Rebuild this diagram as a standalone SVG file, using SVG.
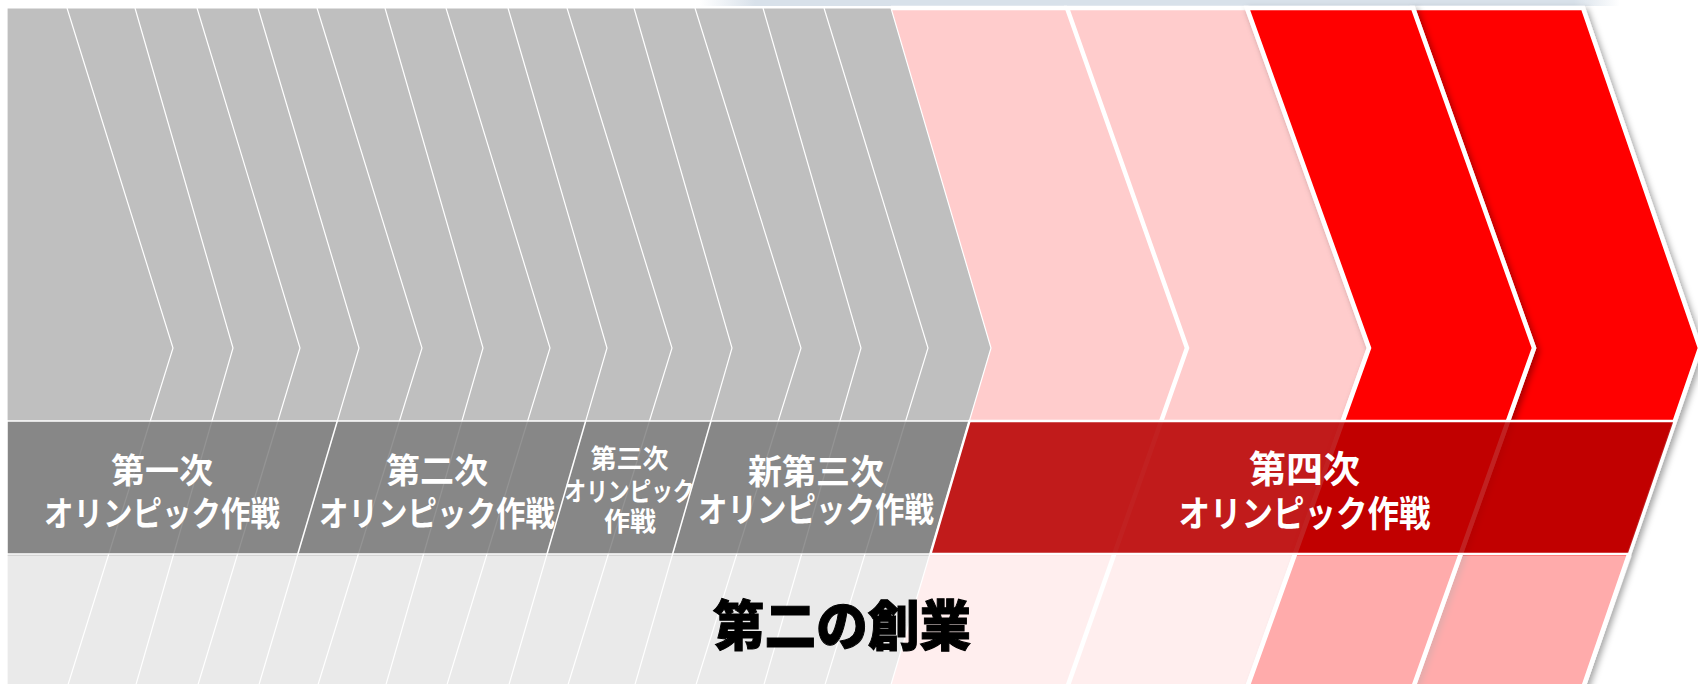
<svg xmlns="http://www.w3.org/2000/svg" width="1698" height="684" viewBox="0 0 1698 684">
  <defs>
    <linearGradient id="topStrip" x1="700" y1="0" x2="1620" y2="0" gradientUnits="userSpaceOnUse">
      <stop offset="0" stop-color="#D8E1EA" stop-opacity="0"/>
      <stop offset="0.06" stop-color="#D8E1EA" stop-opacity="1"/>
      <stop offset="0.95" stop-color="#D8E1EA" stop-opacity="1"/>
      <stop offset="1" stop-color="#D8E1EA" stop-opacity="0"/>
    </linearGradient>
    <filter id="shadow" x="-10%" y="-5%" width="130%" height="115%">
      <feDropShadow dx="3" dy="3" stdDeviation="3" flood-color="#000" flood-opacity="0.35"/>
    </filter>
    <style>
      .gray { fill: #BFBFBF; stroke: #FFFFFF; stroke-width: 1.2; }
      .thin { fill: none; stroke: #FFFFFF; stroke-width: 1.2; }
      .pink { fill: #FFCCCC; }
      .pinkS { fill: #FFCCCC; stroke: #FFFFFF; stroke-width: 4.5; }
      .red { fill: #FF0000; stroke: #FFFFFF; stroke-width: 4.5; }
      .thick { fill: none; stroke: #FFFFFF; stroke-width: 4.5; }
      .bandGray { fill: #797979; fill-opacity: 0.8; stroke: #FFFFFF; stroke-width: 1.5; }
      .bandSep { stroke: #FFFFFF; stroke-width: 1.5; }
      .bandRed { fill: #B80000; fill-opacity: 0.87; stroke: #FFFFFF; stroke-width: 2.5; }
      .lbl { font-family: "Noto Sans CJK JP", "Noto Sans", sans-serif; font-weight: 700; fill: #FFFFFF; text-anchor: middle; }
      .title { font-family: "Noto Sans CJK JP", "Noto Sans", sans-serif; font-weight: 900; fill: #000000; stroke: #000000; stroke-width: 1; text-anchor: middle; }
    </style>
  </defs>

  <rect x="0" y="0" width="1698" height="684" fill="#FFFFFF"/>
  <rect x="700" y="0" width="920" height="6" fill="url(#topStrip)"/>

  <g id="chevron-pink-1">
    <polygon class="pink" points="891,8 1067,8 1187,348 1067,688 890,688 991,348"/>
    <line class="thick" x1="891" y1="8" x2="1067" y2="8"/>
  </g>
  <g id="chevron-pink-2">
    <polygon class="pinkS" points="1067,8 1247,8 1369,348 1247,688 1067,688 1187,348"/>
  </g>
  <g id="chevron-red-2" filter="url(#shadow)">
    <polygon class="red" points="1413,8 1583,8 1700,348 1583,688 1413,688 1534,348"/>
  </g>
  <g id="chevron-red-1" filter="url(#shadow)">
    <polygon class="red" points="1247,8 1413,8 1534,348 1413,688 1247,688 1369,348"/>
  </g>

  <g id="chevron-gray">
    <polygon class="gray" points="7,8 891,8 991,348 890,688 7,688"/>
    <polyline class="thin" points="67,8 173,348 67,688"/>
    <polyline class="thin" points="135,8 233,348 135,688"/>
    <polyline class="thin" points="197,8 300,348 197,688"/>
    <polyline class="thin" points="258,8 359,348 258,688"/>
    <polyline class="thin" points="317,8 422,348 317,688"/>
    <polyline class="thin" points="385,8 483,348 385,688"/>
    <polyline class="thin" points="446,8 550,348 446,688"/>
    <polyline class="thin" points="508,8 607,348 508,688"/>
    <polyline class="thin" points="567,8 672,348 567,688"/>
    <polyline class="thin" points="634,8 732,348 634,688"/>
    <polyline class="thin" points="695,8 801,348 695,688"/>
    <polyline class="thin" points="763,8 861,348 763,688"/>
    <polyline class="thin" points="824,8 928,348 824,688"/>
  </g>

  <g id="band-gray">
    <polygon class="bandGray" points="7,421 969.5,421 930.4,554 7,554"/>
    <line class="bandSep" x1="337.3" y1="421" x2="297.8" y2="554"/>
    <line class="bandSep" x1="585.7" y1="421" x2="547" y2="554"/>
    <line class="bandSep" x1="711" y1="421" x2="672.6" y2="554"/>
  </g>
  <g id="band-red">
    <polygon class="bandRed" points="969.5,421 1674.9,421 1629.1,554 930.4,554"/>
  </g>

  <polygon id="lower-band" points="7,555.5 1632,555.5 1587,684 7,684" fill="#FFFFFF" fill-opacity="0.67"/>

  <g id="connectors"/>

  <g id="phase-1">
    <text class="lbl" x="162" y="482.8" font-size="34">第一次</text>
    <text class="lbl" x="162" y="525.8" font-size="34" textLength="236" lengthAdjust="spacingAndGlyphs">オリンピック作戦</text>
  </g>
  <g id="phase-2">
    <text class="lbl" x="437" y="482.8" font-size="34">第二次</text>
    <text class="lbl" x="437" y="525.8" font-size="34" textLength="236" lengthAdjust="spacingAndGlyphs">オリンピック作戦</text>
  </g>
  <g id="phase-3">
    <text class="lbl" x="629.5" y="468" font-size="26">第三次</text>
    <text class="lbl" x="629.5" y="501.3" font-size="26" textLength="130" lengthAdjust="spacingAndGlyphs">オリンピック</text>
    <text class="lbl" x="630" y="531.3" font-size="26">作戦</text>
  </g>
  <g id="phase-3-new">
    <text class="lbl" x="816" y="483.8" font-size="34">新第三次</text>
    <text class="lbl" x="816" y="521.8" font-size="34" textLength="236" lengthAdjust="spacingAndGlyphs">オリンピック作戦</text>
  </g>
  <g id="phase-4">
    <text class="lbl" x="1304.6" y="482.5" font-size="37">第四次</text>
    <text class="lbl" x="1304.5" y="526.5" font-size="36" textLength="252" lengthAdjust="spacingAndGlyphs">オリンピック作戦</text>
  </g>
  <g id="title">
    <text class="title" x="842" y="646" font-size="54" textLength="258" lengthAdjust="spacingAndGlyphs">第二の創業</text>
  </g>
</svg>
